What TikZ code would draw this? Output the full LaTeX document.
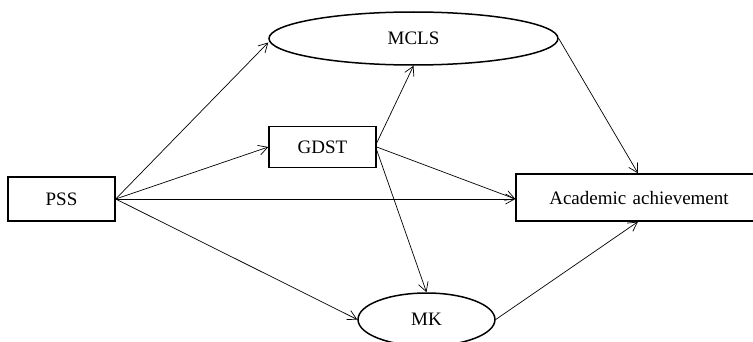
\documentclass[tikz,border=0pt]{standalone}
\usepackage{fontspec}
\setmainfont{Liberation Serif}
\usetikzlibrary{shapes.geometric,arrows.meta}
\begin{document}
\begin{tikzpicture}[x=1pt,y=1pt,
  box/.style={draw,line width=1.4pt,rectangle,inner sep=0pt,font=\fontsize{19}{21}\selectfont},
  oval/.style={draw,line width=1.5pt,ellipse,inner sep=0pt,font=\fontsize{19}{21}\selectfont},
  arr/.style={line width=0.7pt,-{Straight Barb[length=9pt,width=10pt,line width=0.7pt]}}]
\useasboundingbox (0,0) rectangle (753,341);
\node[box,minimum width=107pt,minimum height=44pt] (pss) at (61.5,142) {PSS};
\node[box,minimum width=107pt,minimum height=40.5pt] (gdst) at (322.5,194) {GDST};
\node[oval,minimum width=289pt,minimum height=53pt] (mcls) at (413.5,302.5) {MCLS};
\node[box,minimum width=250pt,minimum height=47pt,text width=246pt,align=center] (ach) at (641,143.5) {\hspace*{-4pt}Academic achievement};
\node[oval,minimum width=137pt,minimum height=53pt] (mk) at (426.5,21.5) {MK};
\coordinate (achin) at (ach.west |- pss.east);
\draw[arr] (pss.east) -- ([yshift=-4pt]mcls.west);
\draw[arr] (pss.east) -- (gdst.west);
\draw[arr] (pss.east) -- (achin);
\draw[arr] (pss.east) -- (mk.west);
\draw[arr] ([yshift=4pt]gdst.east) -- (mcls.south);
\draw[arr] (gdst.east) -- (achin);
\draw[arr] ([yshift=-3pt]gdst.east) -- (mk.north);
\draw[arr] (mcls.east) -- ([xshift=-3pt]ach.north);
\draw[arr] (mk.east) -- ([xshift=-3pt]ach.south);
\end{tikzpicture}
\end{document}
